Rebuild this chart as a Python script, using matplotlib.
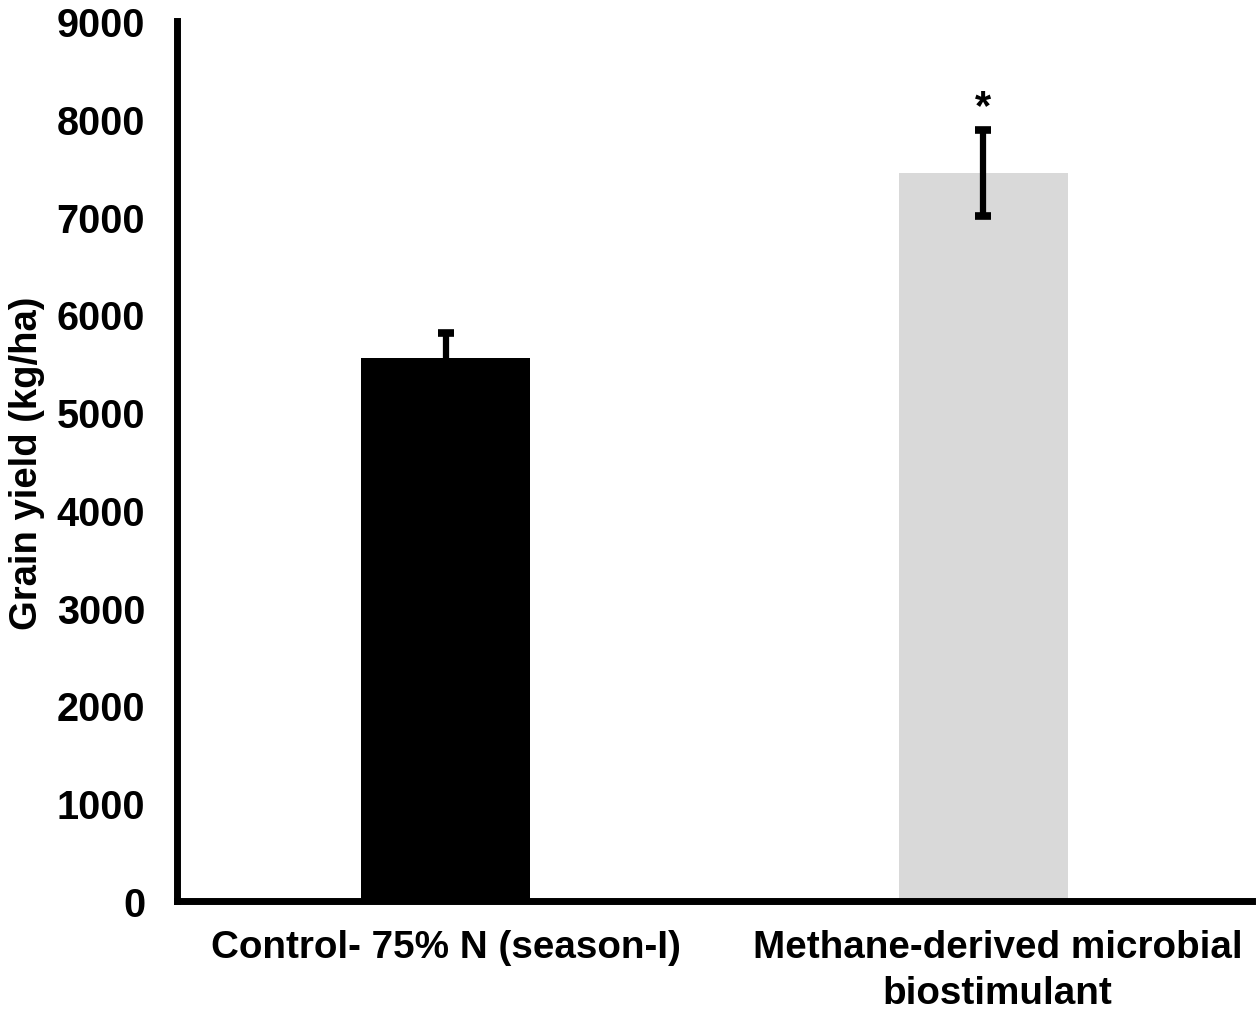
import matplotlib
matplotlib.use("Agg")
import matplotlib.pyplot as plt
import matplotlib.transforms as mtransforms
import numpy as np

categories = ["Control- 75% N (season-I)", "Methane-derived microbial\nbiostimulant"]
yield_kg_ha = [5550, 7445]
err_kg_ha = [260, 443]
bar_colors = ["#000000", "#d9d9d9"]
signif = ["", "*"]

plt.rcParams["font.family"] = ["Liberation Sans", "DejaVu Sans"]
plt.rcParams["font.weight"] = "bold"

fig = plt.figure(figsize=(12.59, 10.2), dpi=100)
ax = fig.add_axes([0.1406, 0.1157, 0.854, 0.8627])

x = np.arange(len(categories))
ax.bar(x, yield_kg_ha, width=0.314, color=bar_colors, zorder=1)
ax.errorbar(x, yield_kg_ha, yerr=err_kg_ha, fmt="none", ecolor="black",
            elinewidth=4.5, capsize=6, capthick=5.5, zorder=2)

for xi, yi, ei, s in zip(x, yield_kg_ha, err_kg_ha, signif):
    if s:
        ax.annotate(s, (xi, yi + ei), xytext=(0, 2), textcoords="offset points",
                    ha="center", va="bottom", fontsize=30, fontweight="bold")

ax.set_xlim(-0.5, 1.5)
ax.set_ylim(0, 9000)
ax.set_yticks(np.arange(0, 9001, 1000))
ax.set_xticks(x)
ax.set_xticklabels(categories, fontsize=27.8, fontweight="bold", linespacing=1.35)
ax.tick_params(axis="y", labelsize=28.5, length=0, pad=23)
ax.tick_params(axis="x", length=0, pad=20)

fig.text(27 / 1259, 0.546, "Grain yield (kg/ha)", rotation=90, ha="center", va="center",
         fontsize=27.5, fontweight="bold")

# second category label sits a little right of its bar in the original
lbl = ax.get_xticklabels()[1]
lbl.set_transform(lbl.get_transform() + mtransforms.ScaledTranslation(0.14, 0, fig.dpi_scale_trans))

for side in ["top", "right"]:
    ax.spines[side].set_visible(False)
for side in ["left", "bottom"]:
    ax.spines[side].set_linewidth(5)

fig.savefig("out.png", dpi=100)
